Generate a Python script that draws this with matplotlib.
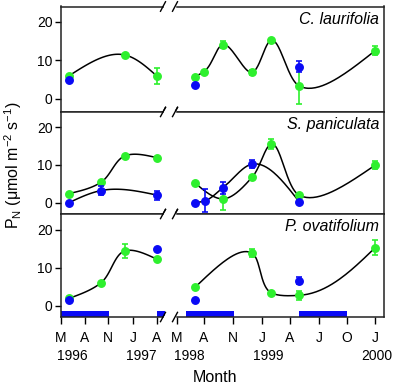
import numpy as np
import matplotlib
matplotlib.use("Agg")
import matplotlib.pyplot as plt
import matplotlib.transforms as mtransforms

plt.rcParams['font.family'] = ['Liberation Sans', 'DejaVu Sans']
plt.rcParams['mathtext.fontset'] = 'custom'
plt.rcParams['mathtext.rm'] = 'Liberation Sans'
plt.rcParams['mathtext.it'] = 'Liberation Sans:italic'

GREEN = '#2ef02e'
BLUE = '#0a0af5'

# x positions on the (broken) time axis
month_ticks = [61, 85, 108, 133, 157, 177, 204, 233, 262, 290, 319, 347, 375]
month_labels = ['M', 'A', 'N', 'J', 'A', 'M', 'A', 'N', 'J', 'A', 'J', 'O', 'J']
year_pos = [72, 141, 189, 268, 377]
year_labels = ['1996', '1997', '1998', '1999', '2000']

species = ['C. laurifolia', 'S. paniculata', 'P. ovatifolium']

# C. laurifolia
lau_green_x1 = [69, 125, 157]
lau_green_y1 = [6.0, 11.4, 5.9]
lau_green_e1 = [0, 0, 2.0]
lau_green_x2 = [195, 204, 223, 252, 271, 299, 375]
lau_green_y2 = [5.8, 7.1, 14.1, 6.9, 15.2, 3.4, 12.5]
lau_green_e2 = [0, 0, 1.0, 0.6, 0, 4.6, 1.2]
lau_blue_x = [69, 195, 299]
lau_blue_y = [5.0, 3.7, 8.4]
lau_blue_e = [0, 0, 1.4]

# S. paniculata
pan_green_x1 = [69, 101, 125, 157]
pan_green_y1 = [2.4, 5.4, 12.4, 11.9]
pan_green_e1 = [0, 0, 0, 0]
pan_green_x2 = [195, 223, 252, 271, 299, 375]
pan_green_y2 = [5.2, 1.0, 6.7, 15.5, 2.0, 9.9]
pan_green_e2 = [0, 3.0, 0, 1.3, 0, 1.0]
pan_blue_x1 = [69, 101, 157]
pan_blue_y1 = [0.0, 3.2, 2.0]
pan_blue_e1 = [0, 1.3, 1.2]
pan_blue_x2 = [195, 205, 223, 252, 299]
pan_blue_y2 = [0.0, 0.5, 4.0, 10.2, 0.3]
pan_blue_e2 = [0, 3.0, 1.6, 1.0, 0]

# P. ovatifolium
ova_green_x1 = [69, 101, 125, 157]
ova_green_y1 = [2.0, 6.1, 14.5, 12.3]
ova_green_e1 = [0, 0, 1.75, 0]
ova_green_x2 = [195, 252, 271, 299, 375]
ova_green_y2 = [4.9, 13.9, 3.5, 2.8, 15.3]
ova_green_e2 = [0, 1.0, 0, 1.2, 2.0]
ova_blue_x = [69, 157, 195, 299]
ova_blue_y = [1.6, 14.9, 1.6, 6.7]
ova_blue_e = [0, 0, 0, 1.0]

# dry season bars (start, end)
dry_start = [61, 157, 186, 299]
dry_end = [109, 165, 234, 347]


def smooth_curve(x, y, yscale=3.8, n=40):
    # parametric Hermite spline (chord-length, local tangents) in screen pixels
    P = np.column_stack([np.asarray(x, float), np.asarray(y, float) * yscale])
    h = np.hypot(*np.diff(P, axis=0).T)
    d = np.diff(P, axis=0) / h[:, None]
    m = np.zeros_like(P)
    for i in range(1, len(P) - 1):
        m[i] = (d[i - 1] * h[i] + d[i] * h[i - 1]) / (h[i - 1] + h[i])
    m[0] = (3 * d[0] - m[1]) / 2
    m[-1] = (3 * d[-1] - m[-2]) / 2
    out = []
    for i in range(len(P) - 1):
        s = np.linspace(0, 1, n)[:, None]
        h00 = 2 * s ** 3 - 3 * s ** 2 + 1
        h10 = s ** 3 - 2 * s ** 2 + s
        h01 = -2 * s ** 3 + 3 * s ** 2
        h11 = s ** 3 - s ** 2
        out.append(h00 * P[i] + h10 * h[i] * m[i] + h01 * P[i + 1] + h11 * h[i] * m[i + 1])
    out = np.vstack(out)
    return out[:, 0], out[:, 1] / yscale


panels = [
    dict(green=[(lau_green_x1, lau_green_y1, lau_green_e1), (lau_green_x2, lau_green_y2, lau_green_e2)],
         blue=[(lau_blue_x, lau_blue_y, lau_blue_e)], blue_curve=False, ylim=(-3.4, 24)),
    dict(green=[(pan_green_x1, pan_green_y1, pan_green_e1), (pan_green_x2, pan_green_y2, pan_green_e2)],
         blue=[(pan_blue_x1, pan_blue_y1, pan_blue_e1), (pan_blue_x2, pan_blue_y2, pan_blue_e2)],
         blue_curve=True, ylim=(-3.0, 24)),
    dict(green=[(ova_green_x1, ova_green_y1, ova_green_e1), (ova_green_x2, ova_green_y2, ova_green_e2)],
         blue=[(ova_blue_x, ova_blue_y, ova_blue_e)], blue_curve=False, ylim=(-2.9, 24.2)),
]

W, H = 397, 386
fig = plt.figure(figsize=(W / 100, H / 100), dpi=100)
left, right = 61, 384
tops = [6.5, 112, 214]
bottoms = [112, 214, 317]

for k, p in enumerate(panels):
    ax = fig.add_axes([left / W, (H - bottoms[k]) / H, (right - left) / W, (bottoms[k] - tops[k]) / H])
    ax.set_xlim(left, right)
    ax.set_ylim(*p['ylim'])
    for s in ax.spines.values():
        s.set_linewidth(1.1)
        s.set_color('#222222')
    ax.set_yticks([0, 10, 20])
    ax.tick_params(axis='y', direction='out', length=4, width=1, labelsize=10, pad=2)

    curves = list(p['green']) + (list(p['blue']) if p['blue_curve'] else [])
    for xs_, ys_, es_ in curves:
        cx, cy = smooth_curve(xs_, ys_)
        ax.plot(cx, cy, color='black', lw=1.1, zorder=2)

    for xs_, ys_, es_ in p['green']:
        ax.errorbar(xs_, ys_, yerr=es_, fmt='none', ecolor=GREEN, elinewidth=1.2, capsize=2.5, capthick=1.2, zorder=3)
        ax.plot(xs_, ys_, 'o', color=GREEN, ms=5.4, mec=GREEN, zorder=4)
    for xs_, ys_, es_ in p['blue']:
        ax.errorbar(xs_, ys_, yerr=es_, fmt='none', ecolor=BLUE, elinewidth=1.2, capsize=2.5, capthick=1.2, zorder=5)
        ax.plot(xs_, ys_, 'o', color=BLUE, ms=5.4, mec=BLUE, zorder=6)

    ax.text(0.985, 0.88, species[k], transform=ax.transAxes, ha='right', va='center',
            fontsize=11.5, style='italic')

    # axis break marks on top and bottom spines
    trans = mtransforms.blended_transform_factory(ax.transData, ax.transAxes)
    for yy in (0, 1):
        ax.plot([165, 174], [yy, yy], color='white', lw=2.5, transform=trans, clip_on=False, zorder=10)
        for bx in (163, 175):
            ax.plot([bx - 2.5, bx + 2.5], [yy - 0.045, yy + 0.045], color='black', lw=1.0,
                    transform=trans, clip_on=False, zorder=11)

    if k < 2:
        ax.set_xticks([])
    else:
        bars = [(s, e - s) for s, e in zip(dry_start, dry_end)]
        ax.broken_barh(bars, (p['ylim'][0], -1.3 - p['ylim'][0]), facecolors=BLUE, zorder=1)
        ax.set_xticks(month_ticks)
        ax.set_xticklabels(month_labels)
        ax.tick_params(axis='x', direction='out', length=5, width=1, labelsize=10, pad=5)
        for xp, yl in zip(year_pos, year_labels):
            ax.text(xp, -0.38, yl, transform=trans, ha='center', va='center', fontsize=10)

fig.text(215 / W, (H - 377) / H, 'Month', ha='center', va='center', fontsize=11.5)
fig.text(13 / W, (H - 165) / H, r'P$_\mathrm{N}$ ($\mathrm{\mu}$mol m$^{-2}$ s$^{-1}$)',
         ha='center', va='center', rotation=90, fontsize=11.5)

fig.savefig('out.png', dpi=100)
